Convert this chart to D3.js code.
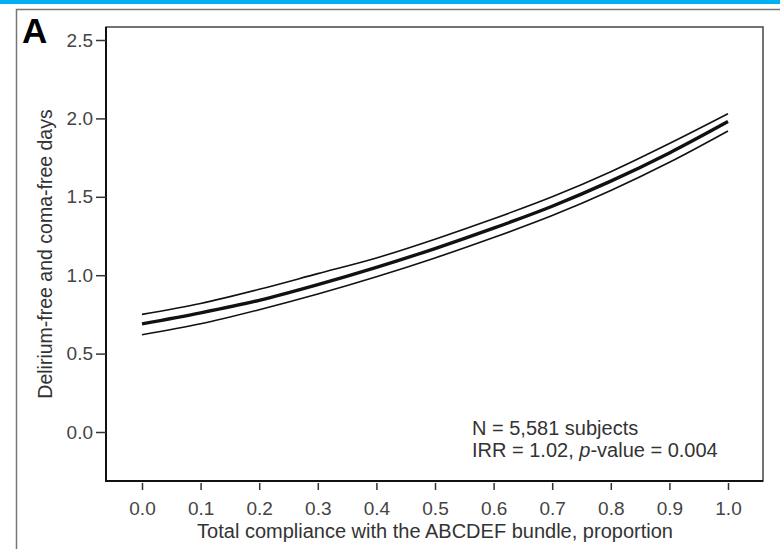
<!DOCTYPE html>
<html>
<head>
<meta charset="utf-8">
<script src="https://cdn.jsdelivr.net/npm/d3@7"></script>
<style>
  body { margin: 0; background: #fff; }
  text { font-family: "Liberation Sans", Arial, sans-serif; }
</style>
</head>
<body>
<div id="chart"></div>
<script>
// Canvas size
const WIDTH = 780;
const HEIGHT = 549;

// Plot box (pixels)
const BOX = {left: 106, top: 27, right: 763, bottom: 481};

// Data
const compliance = [0.0, 0.1, 0.2, 0.3, 0.4, 0.5, 0.6, 0.7, 0.8, 0.9, 1.0];
const meanDays   = [0.69, 0.76, 0.84, 0.94, 1.05, 1.17, 1.30, 1.44, 1.60, 1.78, 1.98];
const upperDays  = [0.75, 0.82, 0.91, 1.01, 1.11, 1.23, 1.36, 1.50, 1.66, 1.84, 2.03];
const lowerDays  = [0.62, 0.69, 0.78, 0.88, 0.99, 1.11, 1.24, 1.38, 1.54, 1.72, 1.92];
const yTicks = [0.0, 0.5, 1.0, 1.5, 2.0, 2.5];
const xTicks = [0.0, 0.1, 0.2, 0.3, 0.4, 0.5, 0.6, 0.7, 0.8, 0.9, 1.0];

const FONT = "'Liberation Sans', Arial, sans-serif";

let svg = d3.select("#chart")
            .append("svg")
            .attr("width", WIDTH)
            .attr("height", HEIGHT);

// blue strip on top + outer panel frame
svg.append("rect")
    .attr("x", 0).attr("y", 0)
    .attr("width", WIDTH).attr("height", 4)
    .attr("fill", "#00b0f0");

svg.append("path")
    .attr("d", `M16.5,${HEIGHT} V9.5 H${WIDTH}`)
    .attr("fill", "none")
    .attr("stroke", "#777")
    .attr("stroke-width", 1.5);

// panel letter
svg.append("text")
    .attr("x", 22).attr("y", 43)
    .style("font-size", "35px")
    .style("font-weight", "bold")
    .attr("fill", "#000")
    .text("A");

// Scales
let x = d3.scaleLinear().domain([0, 1]).range([142, 728]);
let y = d3.scaleLinear().domain([0, 2.5]).range([432, 40]);

// Plot frame
svg.append("rect")
    .attr("x", BOX.left).attr("y", BOX.top)
    .attr("width", BOX.right - BOX.left)
    .attr("height", BOX.bottom - BOX.top)
    .attr("fill", "none")
    .attr("stroke", "#444")
    .attr("stroke-width", 1.5);

// darker left and bottom edges
svg.append("path")
    .attr("d", `M${BOX.left},${BOX.top} V${BOX.bottom} H${BOX.right}`)
    .attr("fill", "none")
    .attr("stroke", "#111")
    .attr("stroke-width", 2);

// Y axis
let yAxis = d3.axisLeft(y)
                .tickValues(yTicks)
                .tickFormat(d3.format(".1f"))
                .tickSize(10)
                .tickPadding(3);

let yg = svg.append("g")
            .attr("transform", `translate(${BOX.left}, 0)`)
            .call(yAxis);
yg.select(".domain").remove();
yg.selectAll("line").attr("stroke", "#333").attr("stroke-width", 1.5);
yg.selectAll("text")
    .attr("fill", "#444")
    .style("font-size", "19px")
    .style("font-family", FONT);

// X axis (ticks sit just below the frame)
let xAxis = d3.axisBottom(x)
                .tickValues(xTicks)
                .tickFormat(d3.format(".1f"))
                .tickSize(7)
                .tickPadding(12);

let xg = svg.append("g")
            .attr("transform", `translate(0, ${BOX.bottom + 2})`)
            .call(xAxis);
xg.select(".domain").remove();
xg.selectAll("line").attr("stroke", "#333").attr("stroke-width", 1.5);
xg.selectAll("text")
    .attr("fill", "#444")
    .style("font-size", "19px")
    .style("font-family", FONT);

// Axis titles
svg.append("text")
    .attr("transform", `translate(52, 254) rotate(-90)`)
    .attr("text-anchor", "middle")
    .style("font-size", "19.5px")
    .attr("fill", "#333")
    .text("Delirium-free and coma-free days");

svg.append("text")
    .attr("x", 435).attr("y", 538)
    .attr("text-anchor", "middle")
    .style("font-size", "20px")
    .attr("fill", "#333")
    .text("Total compliance with the ABCDEF bundle, proportion");

// Curves
let line = d3.line()
                .x((d, i) => x(compliance[i]))
                .y(d => y(d))
                .curve(d3.curveMonotoneX);

[[upperDays, 1.6], [lowerDays, 1.6], [meanDays, 3.4]].forEach(([vals, w]) => {
    svg.append("path")
        .datum(vals)
        .attr("fill", "none")
        .attr("stroke", "#111")
        .attr("stroke-width", w)
        .attr("d", line);
});

// Annotation
let note = svg.append("text")
                .style("font-size", "20px")
                .attr("fill", "#333");
note.append("tspan").attr("x", 472).attr("y", 435).text("N = 5,581 subjects");
let l2 = note.append("tspan").attr("x", 472).attr("y", 457);
l2.append("tspan").text("IRR = 1.02, ");
l2.append("tspan").style("font-style", "italic").text("p");
l2.append("tspan").text("-value = 0.004");
</script>
</body>
</html>
